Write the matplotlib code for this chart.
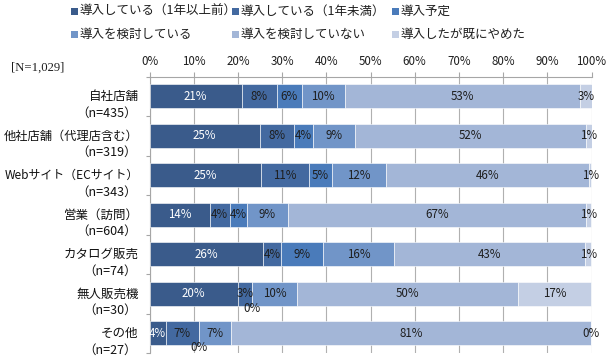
import matplotlib
matplotlib.use("Agg")
import matplotlib.pyplot as plt
from matplotlib.patches import Rectangle
from matplotlib.ticker import FuncFormatter
import numpy as np

plt.rcParams['font.family'] = ['Noto Sans CJK JP', 'DejaVu Sans']

categories = ["自社店舗", "他社店舗（代理店含む）", "Webサイト（ECサイト）", "営業（訪問）",
              "カタログ販売", "無人販売機", "その他"]
n_labels = ["（n=435）", "（n=319）", "（n=343）", "（n=604）", "（n=74）", "（n=30）", "（n=27）"]
series_names = ["導入している（1年以上前）", "導入している（1年未満）", "導入予定",
                "導入を検討している", "導入を検討していない", "導入したが既にやめた"]

# percent of respondents per category
s_over1y   = [20.9, 25.0, 25.2, 13.7, 25.7, 20.0, 3.7]
s_under1y  = [7.9, 7.7, 10.9, 4.4, 4.1, 3.3, 7.4]
s_planned  = [5.6, 4.4, 5.2, 3.9, 9.4, 0.0, 0.0]
s_consider = [9.8, 9.3, 12.2, 9.4, 16.2, 10.0, 7.4]
s_not      = [53.2, 52.4, 45.9, 67.3, 43.2, 50.0, 81.4]
s_quit     = [2.6, 1.2, 0.6, 1.3, 1.4, 16.7, 0.0]
n_total = "[N=1,029]"

series = [s_over1y, s_under1y, s_planned, s_consider, s_not, s_quit]
colors = ["#3A5B8B", "#4369A0", "#4A7BBA", "#7195C8", "#A3B6D7", "#C4CFE4"]
text_colors = ["white", "#1e1e1e", "#1e1e1e", "#1e1e1e", "#1e1e1e", "#1e1e1e"]

W, H = 609, 359
fig = plt.figure(figsize=(W / 100, H / 100), dpi=100)
ax = fig.add_axes([149.5 / W, 1 - 353 / H, 442 / W, 276.3 / H])

y = np.arange(len(categories))
left = np.zeros(len(categories))
for vals, c, tc in zip(series, colors, text_colors):
    vals = np.array(vals)
    ax.barh(y, vals, left=left, height=0.61, color=c, edgecolor="white",
            linewidth=0.4, zorder=3)
    for i, v in enumerate(vals):
        xc = left[i] + v / 2
        dy = 0.36 if (v == 0 and left[i] < 99) else 0
        ax.text(xc, y[i] + dy, f"{v:.0f}%", ha="center", va="center",
                fontsize=8.3, color=tc if v > 0 else "#1e1e1e", zorder=5)
    left += vals

ax.set_xlim(0, 100)
ax.set_ylim(len(categories) - 0.5, -0.5)
ax.xaxis.tick_top()
ax.set_xticks(np.arange(0, 101, 10))
ax.xaxis.set_major_formatter(FuncFormatter(lambda v, p: f"{v:.0f}%"))
ax.tick_params(axis="x", direction="out", length=3.6, width=0.8, color="#A6A6A6",
               labelsize=8.3, labelcolor="#1e1e1e", pad=3)
ax.set_yticks(np.arange(-0.5, len(categories), 1.0))
ax.set_yticklabels([])
ax.tick_params(axis="y", direction="out", length=3, width=0.8, color="#A6A6A6")
ax.grid(axis="x", color="#B0B0B0", linewidth=0.8, zorder=0)
ax.set_axisbelow(True)
for s in ["right", "bottom"]:
    ax.spines[s].set_visible(False)
for s in ["top", "left"]:
    ax.spines[s].set_color("#A6A6A6")
    ax.spines[s].set_linewidth(0.8)

# category labels with sample size under each; shrink a long label if it runs off the left edge
renderer = fig.canvas.get_renderer()
for i, (cat, nl) in enumerate(zip(categories, n_labels)):
    t = ax.annotate(cat, (0, i), xytext=(-11, 0), textcoords="offset pixels",
                    ha="right", va="center", fontsize=9, color="#111111")
    fs = 9
    while t.get_window_extent(renderer).x0 < 3 and fs > 6:
        fs -= 0.2
        t.set_fontsize(fs)
    ax.annotate(nl, (0, i + 0.42), xytext=(-13, 0), textcoords="offset pixels",
                ha="right", va="center", fontsize=9, color="#111111")

fig.text(11 / W, 1 - 68 / H, n_total, ha="left", va="center", fontsize=9.2,
         family="Liberation Serif", color="#1e1e1e")

# legend, 3 columns x 2 rows
col_x = [71, 232, 392]
row_y = [8, 31]
for k, (name, c) in enumerate(zip(series_names, colors)):
    cx, ry = col_x[k % 3], row_y[k // 3]
    fig.patches.append(Rectangle((cx / W, 1 - (ry + 7) / H), 7 / W, 7 / H,
                                 transform=fig.transFigure, facecolor=c,
                                 edgecolor="none"))
    fig.text((cx + 8) / W, 1 - (ry + 3) / H, name, ha="left", va="center",
             fontsize=9, color="#1e1e1e")

fig.savefig("out.png", dpi=100)
